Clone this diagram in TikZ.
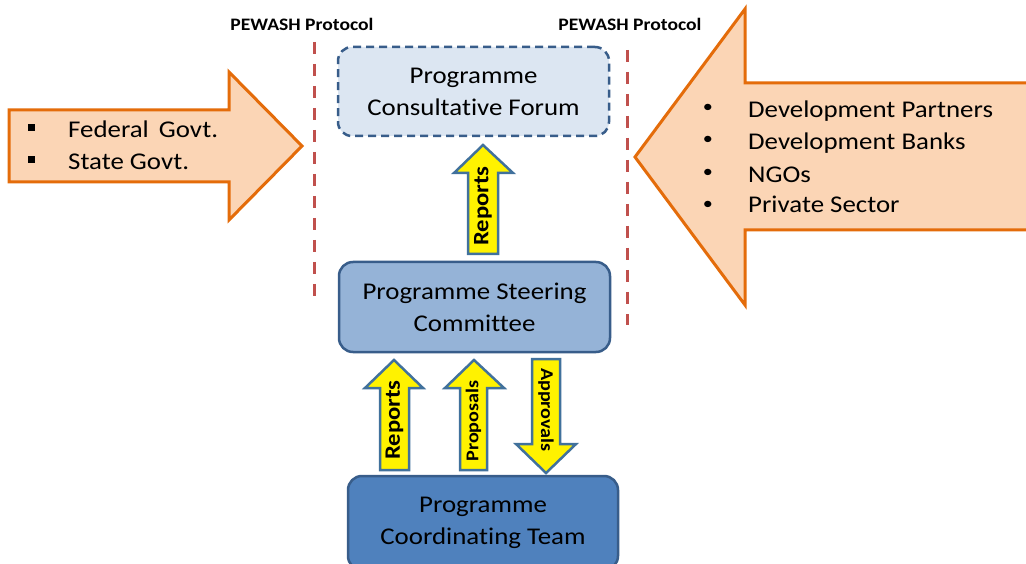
\documentclass[tikz,border=0pt]{standalone}
\usepackage{fontspec}
\setmainfont{Carlito}[FakeStretch=1.12, Ligatures=NoCommon]
\definecolor{peach}{HTML}{FBD5B5}
\definecolor{orng}{HTML}{E46C0A}
\definecolor{redd}{HTML}{C0504D}
\definecolor{bdr}{HTML}{385D8A}
\definecolor{bdrb}{HTML}{41719C}
\definecolor{pcffill}{HTML}{DCE6F2}
\definecolor{pscfill}{HTML}{95B3D7}
\definecolor{pctfill}{HTML}{4F81BD}
\tikzset{
  box/.style={draw=bdr, line width=2.5pt, rounded corners=14pt, align=center, inner sep=0pt,
    font=\fontsize{24}{32}\selectfont},
  bigarrow/.style={fill=peach, draw=orng, line width=3pt, line join=miter},
  yarrow/.style={fill=yellow, draw=bdrb, line width=2.5pt, line join=miter},
  ylabel/.style={font=\bfseries\fontsize{22}{24}\selectfont, inner sep=0pt},
  slabel/.style={font=\bfseries\fontsize{18}{20}\selectfont, inner sep=0pt},
  protocol/.style={draw=redd, line width=3pt, dash pattern=on 12pt off 10pt},
  listitem/.style={anchor=base west, inner sep=0pt, font=\fontsize{24}{28}\selectfont},
  sqbullet/.style={fill=black, minimum size=7pt, inner sep=0pt},
  rbullet/.style={inner sep=0pt, font=\fontsize{18}{20}\selectfont},
  plabel/.style={font=\bfseries\fontsize{17.5}{20}\selectfont, inner sep=0pt, anchor=base}
}
\begin{document}
\begin{tikzpicture}[x=1pt,y=-1pt]
\useasboundingbox (0,0) rectangle (1026,564);
\clip (0,0) rectangle (1026,564);
\fill[white] (0,0) rectangle (1026,564);

% big orange arrows
\draw[bigarrow] (9,110) -- (229,110) -- (229,72) -- (302,146) -- (229,220) -- (229,182) -- (9,182) -- cycle;
\draw[bigarrow] (1040,83) -- (745,83) -- (745,9) -- (635,157) -- (745,305) -- (745,230) -- (1040,230) -- cycle;

% left list
\node[sqbullet] (b1) at (31.5,128) {};
\node[sqbullet] (b2) at (31.5,160) {};
\node[listitem] (fg) at (68,138) {Federal\, Govt.};
\node[listitem] (sg) at (68,170) {State Govt.};

% right list
\node[rbullet] (r1) at (708,108) {•};
\node[rbullet] (r2) at (708,140) {•};
\node[rbullet] (r3) at (708,173) {•};
\node[rbullet] (r4) at (708,205) {•};
\node[listitem] (dp) at (748,118) {Development Partners};
\node[listitem] (db) at (748,150) {Development Banks};
\node[listitem] (ng) at (748,183) {NGOs};
\node[listitem] (ps) at (748,213) {Private Sector};

% protocol lines
\node[plabel] (pl) at (302,31) {PEWASH Protocol};
\node[plabel] (pr) at (630,31) {PEWASH Protocol};
\coordinate (l1) at (314,42);
\coordinate (l2) at (314,305);
\coordinate (m1) at (627,50);
\coordinate (m2) at (627,325);
\draw[protocol] (l1) -- (l2);
\draw[protocol] (m1) -- (m2);

% boxes
\node[box, fill=pcffill, dash pattern=on 8pt off 5pt, minimum width=271pt, minimum height=89pt] (pcf) at (473.5,91.5) {Programme\\Consultative Forum};
\node[box, fill=pscfill, minimum width=271pt, minimum height=90pt] (psc) at (474.5,307) {Programme Steering\\Committee};
\node[box, fill=pctfill, minimum width=270pt, minimum height=94pt] (pct) at (483,523) {Programme\\Coordinating Team};

% yellow arrows
\draw[yarrow] (468,254) -- (468,173) -- (454,173) -- (483,145) -- (513,173) -- (498,173) -- (498,254) -- cycle;
\node[ylabel, rotate=90] (t1) at (483,206) {Reports};

\draw[yarrow] (380,470) -- (380,388) -- (365,388) -- (394,360) -- (423,388) -- (409,388) -- (409,470) -- cycle;
\node[ylabel, rotate=90] (t2) at (394.5,420) {Reports};

\draw[yarrow] (460,470) -- (460,388) -- (445,388) -- (474,360) -- (504,388) -- (487,388) -- (487,470) -- cycle;
\node[slabel, rotate=90] (t3) at (473.5,421) {Proposals};

\draw[yarrow] (532,359) -- (532,444) -- (516,444) -- (546,473) -- (576,444) -- (560,444) -- (560,359) -- cycle;
\node[slabel, rotate=-90] (t4) at (546,410) {Approvals};
\end{tikzpicture}
\end{document}
